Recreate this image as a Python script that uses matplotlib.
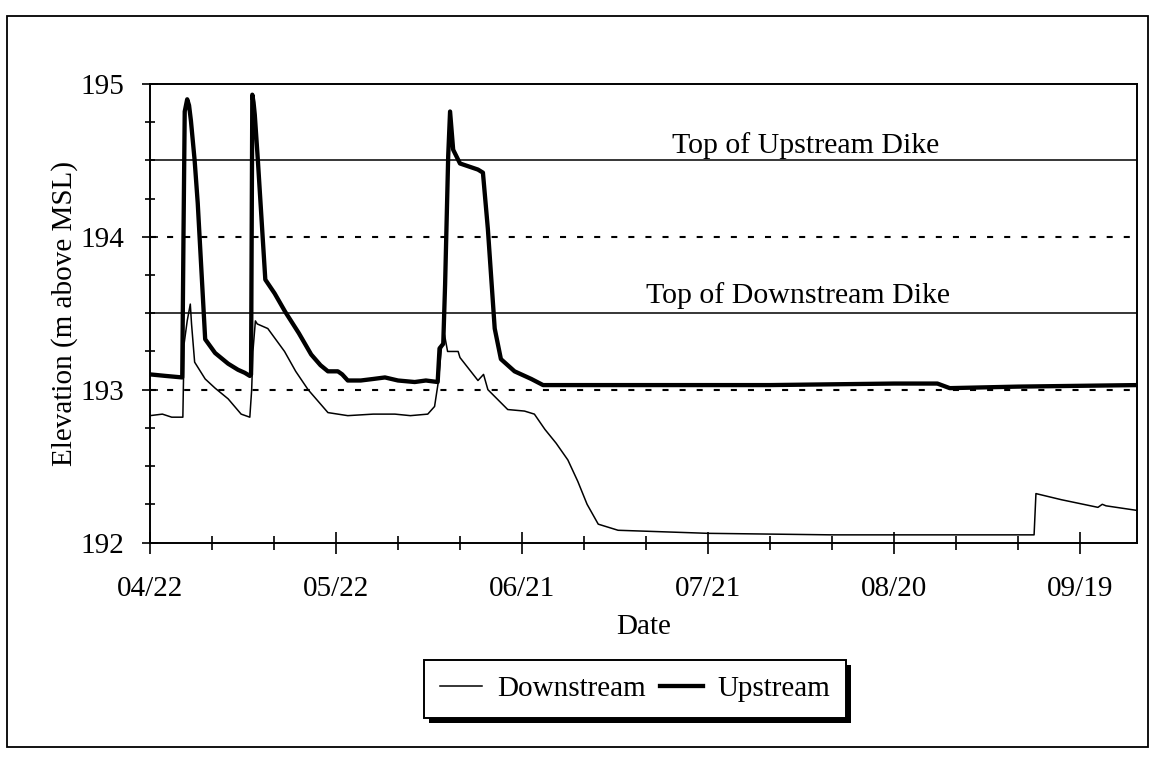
import matplotlib
matplotlib.use("Agg")
import matplotlib.pyplot as plt
from matplotlib.patches import Rectangle
from matplotlib.ticker import MultipleLocator, FixedLocator, FormatStrFormatter

# ---------------- data (x = days after 04/22) ----------------
up_days = [0, 2.5, 5.2, 5.4, 5.6, 6.0, 6.3, 6.6, 7.2, 7.7,
           8.9, 10.5, 12.6, 14.2, 15.3, 16.1, 16.3, 16.5, 16.7, 16.9,
           17.4, 18.6, 20.1, 21.8, 24.0, 26.0, 27.5, 28.7, 30.3, 31.0,
           31.9, 34.0, 36.0, 37.9, 40.0, 42.7, 44.5, 46.4, 46.7, 47.3,
           47.6, 48.1, 48.4, 48.9, 50.0, 52.9, 53.7, 54.5, 55.6, 56.6,
           58.8, 61.5, 63.4, 80.0, 100.0, 120.0, 127.0, 129.0, 140.0, 159.2]
up_elev = [193.10, 193.09, 193.08, 194.0, 194.82, 194.90, 194.86, 194.76, 194.50, 194.22,
           193.33, 193.24, 193.17, 193.13, 193.11, 193.09, 193.10, 194.93, 194.88, 194.80,
           194.50, 193.72, 193.63, 193.51, 193.37, 193.23, 193.16, 193.12, 193.12, 193.10,
           193.06, 193.06, 193.07, 193.08, 193.06, 193.05, 193.06, 193.05, 193.27, 193.30,
           193.69, 194.53, 194.82, 194.57, 194.48, 194.44, 194.42, 194.05, 193.40, 193.20,
           193.12, 193.07, 193.03, 193.03, 193.03, 193.04, 193.04, 193.01, 193.02, 193.03]

dn_days = [0, 2.0, 3.5, 5.3, 5.5, 6.0, 6.5, 6.7, 7.2, 8.9,
           10.5, 12.6, 14.7, 16.1, 16.4, 16.6, 17.0, 17.3, 19.0, 21.7,
           23.5, 25.5, 28.7, 31.9, 36.0, 39.5, 42.0, 44.8, 45.9, 46.5,
           47.0, 47.5, 48.0, 49.7, 50.0, 52.9, 53.8, 54.5, 57.7, 60.4,
           62.0, 63.7, 65.5, 67.4, 69.0, 70.5, 72.3, 75.5, 90.0, 110.0,
           130.0, 142.6, 142.9, 147.0, 152.9, 153.6, 154.2, 159.2]
dn_elev = [192.83, 192.84, 192.82, 192.82, 193.30, 193.45, 193.56, 193.43, 193.18, 193.07,
           193.01, 192.94, 192.84, 192.82, 193.00, 193.25, 193.45, 193.43, 193.40, 193.25,
           193.12, 193.00, 192.85, 192.83, 192.84, 192.84, 192.83, 192.84, 192.89, 193.05,
           193.27, 193.36, 193.25, 193.25, 193.21, 193.06, 193.10, 193.00, 192.87, 192.86,
           192.84, 192.74, 192.65, 192.54, 192.40, 192.25, 192.12, 192.08, 192.06, 192.05,
           192.05, 192.05, 192.32, 192.28, 192.23, 192.25, 192.24, 192.21]

tick_days = [0, 30, 60, 90, 120, 150]
tick_labels = ["04/22", "05/22", "06/21", "07/21", "08/20", "09/19"]

dike_levels = [194.5, 193.5]
dike_labels = ["Top of Upstream Dike", "Top of Downstream Dike"]
dike_label_days = [105.7, 104.6]
dashed_levels = [194.0, 193.0]

# ---------------- figure ----------------
plt.rcParams['font.family'] = ['Liberation Serif', 'DejaVu Serif']
plt.rcParams['font.size'] = 21

W, H = 1151, 758
fig = plt.figure(figsize=(W / 100, H / 100), dpi=100)
ax = fig.add_axes([150 / W, 1 - 542.5 / H, (1137 - 150) / W, (542.5 - 84) / H])

for lvl in dike_levels:
    ax.axhline(lvl, color='black', lw=1.1, zorder=2)
for lvl in dashed_levels:
    ax.axhline(lvl, color='black', lw=1.5, ls=(0, (2.9, 5.3)), zorder=2)

ax.plot(dn_days, dn_elev, color='black', lw=1.1, label='Downstream', zorder=3)
ax.plot(up_days, up_elev, color='black', lw=3.1, label='Upstream',
        solid_joinstyle='round', zorder=4)

offs = [0.05, 0.065]
for d, lvl, lab, o in zip(dike_label_days, dike_levels, dike_labels, offs):
    ax.text(d, lvl + o, lab, ha='center', va='baseline', fontsize=21.5)

ax.set_xlim(0, 159.2)
ax.set_ylim(192, 195)
ax.xaxis.set_major_locator(FixedLocator(tick_days))
ax.set_xticklabels(tick_labels)
ax.xaxis.set_minor_locator(MultipleLocator(10))
ax.yaxis.set_major_locator(MultipleLocator(1))
ax.yaxis.set_minor_locator(MultipleLocator(0.25))
ax.yaxis.set_major_formatter(FormatStrFormatter('%d'))

ax.tick_params(axis='x', which='major', direction='inout', length=16, width=1.2, pad=16)
ax.tick_params(axis='x', which='minor', direction='inout', length=10, width=1.2)
ax.tick_params(axis='y', which='major', direction='inout', length=11, width=1.2, pad=13)
ax.tick_params(axis='y', which='minor', direction='inout', length=7, width=1.2)
for s in ax.spines.values():
    s.set_linewidth(1.4)

ax.set_xlabel('Date', labelpad=9)
ax.set_ylabel('Elevation (m above MSL)', labelpad=2)

leg = ax.legend(loc='center', bbox_to_anchor=(635 / W, 1 - 689 / H),
                bbox_transform=fig.transFigure, ncol=2, frameon=True,
                fancybox=False, edgecolor='black', framealpha=1,
                handlelength=1.45, handletextpad=0.5, columnspacing=0.5,
                borderpad=0.55, borderaxespad=0, fontsize=21)
leg.get_frame().set_linewidth(1.4)

# outer frame
fig.add_artist(Rectangle((7 / W, 1 - 747 / H), (1148 - 7) / W, (747 - 16) / H,
                         transform=fig.transFigure, fill=False, lw=1.3,
                         ec='black'))

# legend shadow
fig.canvas.draw()
bb = leg.get_window_extent()
inv = fig.transFigure.inverted()
(x0, y0), (x1, y1) = inv.transform([(bb.x0 + 5, bb.y0 - 5), (bb.x1 + 5, bb.y1 - 5)])
fig.add_artist(Rectangle((x0, y0), x1 - x0, y1 - y0, transform=fig.transFigure,
                         facecolor='black', edgecolor='none', zorder=-1))

fig.savefig('out.png', dpi=100)
